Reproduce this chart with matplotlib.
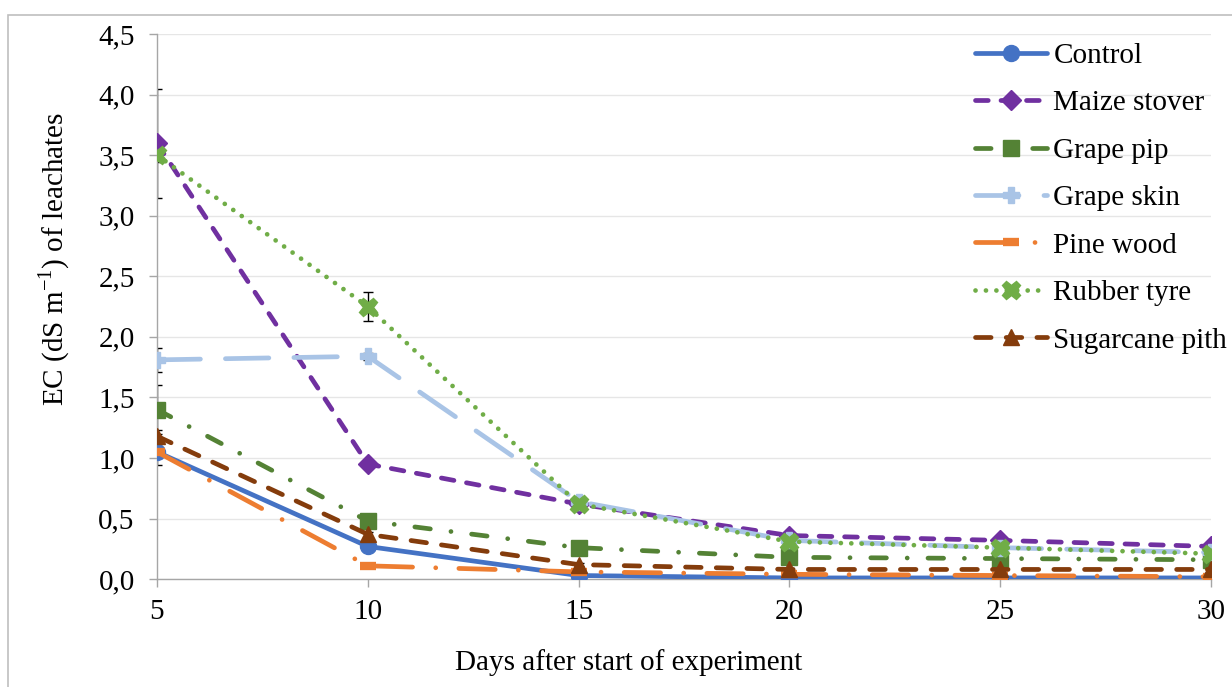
import matplotlib
matplotlib.use("Agg")
import matplotlib.pyplot as plt
from matplotlib.ticker import FuncFormatter, MultipleLocator
from matplotlib.patches import Rectangle

days = [5, 10, 15, 20, 25, 30]

control = [1.05, 0.27, 0.03, 0.01, 0.01, 0.01]
maize_stover = [3.60, 0.95, 0.62, 0.36, 0.32, 0.27]
grape_pip = [1.40, 0.48, 0.26, 0.18, 0.17, 0.16]
grape_skin = [1.81, 1.84, 0.64, 0.32, 0.26, 0.22]
pine_wood = [1.05, 0.11, 0.06, 0.04, 0.03, 0.02]
rubber_tyre = [3.50, 2.25, 0.62, 0.31, 0.26, 0.21]
sugarcane_pith = [1.18, 0.37, 0.12, 0.08, 0.08, 0.08]

control_err = [0.11, 0.02, 0.01, 0.01, 0.01, 0.01]
maize_err = [0.45, 0.03, 0.02, 0.01, 0.01, 0.01]
pip_err = [0.20, 0.03, 0.02, 0.01, 0.01, 0.01]
skin_err = [0.10, 0.03, 0.02, 0.01, 0.01, 0.01]
pine_err = [0.05, 0.01, 0.01, 0.01, 0.01, 0.01]
tyre_err = [0.06, 0.12, 0.02, 0.01, 0.01, 0.01]
sugar_err = [0.05, 0.02, 0.01, 0.01, 0.01, 0.01]

plt.rcParams['font.family'] = ['Liberation Serif', 'DejaVu Serif']
FS = 21

fig = plt.figure(figsize=(12.32, 6.87), dpi=100)
ax = fig.add_axes([0.1274, 0.157, 0.8556, 0.7935])

# thin outer frame of the chart area
fig.patches.append(Rectangle((0.0061, -0.01), 1.0, 0.988, transform=fig.transFigure,
                             fill=False, edgecolor='#BFBFBF', linewidth=1.2))

LW = 3.4
series = [
    ("Control", control, control_err, '#4472C4', '-', 'o', 11.5, 1),
    ("Maize stover", maize_stover, maize_err, '#7030A0', (0, (2.7, 2.7)), 'D', 10, 1),
    ("Grape pip", grape_pip, pip_err, '#548235', (0, (3.3, 4.4, 0.01, 4.4)), 's', 11, 1),
    ("Grape skin", grape_skin, skin_err, '#A9C4E6', (0, (9.2, 5.3)), 'P', 12, 1),
    ("Pine wood", pine_wood, pine_err, '#ED7D31', (0, (7.7, 4.9, 0.01, 4.9)), '_', 12, 6),
    ("Rubber tyre", rubber_tyre, tyre_err, '#70AD47', (0, (0.01, 2.2)), 'X', 13, 1),
    ("Sugarcane pith", sugarcane_pith, sugar_err, '#843C0C', (0, (3.3, 3.2)), '^', 11.5, 1),
]

for name, vals, errs, col, ls, mk, ms, mew in series:
    ax.errorbar(days, vals, yerr=errs, fmt='none', ecolor='black',
                elinewidth=1.0, capsize=3.5, capthick=1.0, zorder=2)
    ax.plot(days, vals, color=col, linestyle=ls, linewidth=LW,
            marker=mk, markersize=ms, markeredgewidth=mew,
            markeredgecolor=col, markerfacecolor=col,
            dash_capstyle='round', solid_capstyle='round',
            label=name, zorder=3)

ax.set_xlim(5, 30)
ax.set_ylim(0, 4.5)
ax.set_xticks(days)
ax.yaxis.set_major_locator(MultipleLocator(0.5))
ax.yaxis.set_major_formatter(FuncFormatter(lambda v, p: f"{v:.1f}".replace('.', ',')))
ax.grid(axis='y', color='#E6E6E6', linewidth=1.0, zorder=0)
ax.set_axisbelow(True)

for side in ('top', 'right'):
    ax.spines[side].set_visible(False)
for side in ('left', 'bottom'):
    ax.spines[side].set_color('#A6A6A6')
    ax.spines[side].set_linewidth(1.0)
ax.tick_params(axis='both', colors='#A6A6A6', labelcolor='black', labelsize=FS,
               length=6, width=1.0)
ax.tick_params(axis='y', pad=10)
ax.tick_params(axis='x', pad=8)

ax.set_xlabel("Days after start of experiment", fontsize=FS)
ax.xaxis.set_label_coords(0.447, -0.128)
ax.set_ylabel(r"EC (dS m$^{\mathregular{-1}}$) of leachates", fontsize=FS)
ax.yaxis.set_label_coords(-0.081, 0.587)

leg = ax.legend(loc='upper left', bbox_to_anchor=(0.791, 0.938),
                bbox_transform=fig.transFigure, frameon=False, borderpad=0,
                borderaxespad=0, fontsize=FS, handlelength=2.5,
                labelspacing=0.72, handletextpad=0.2)

fig.savefig("out.png", dpi=100)
